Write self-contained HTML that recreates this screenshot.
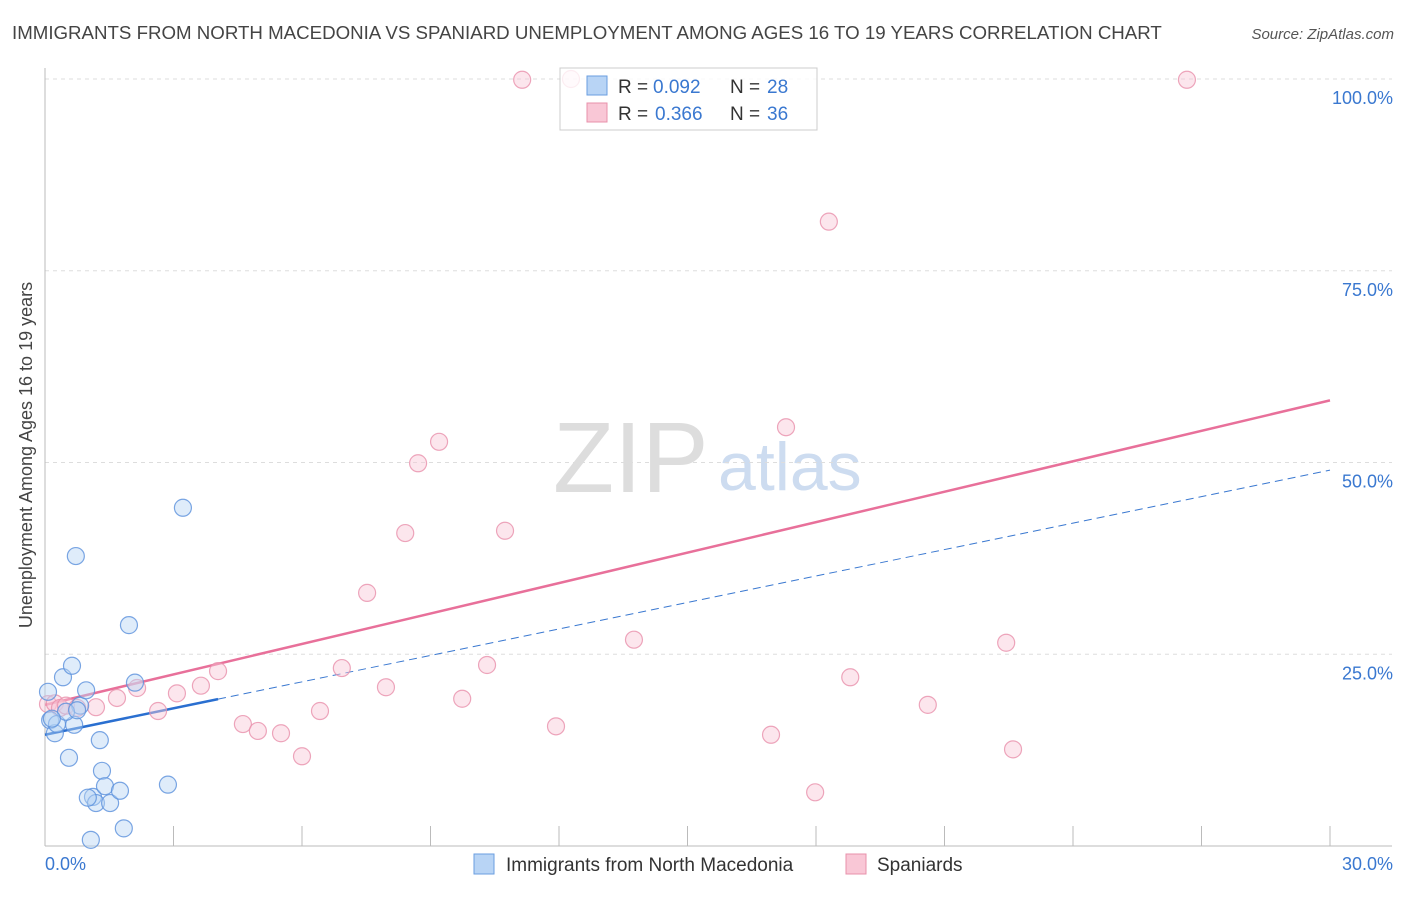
<!DOCTYPE html>
<html><head><meta charset="utf-8">
<style>
body{margin:0;background:#fff;font-family:"Liberation Sans",sans-serif;}
svg text{font-family:"Liberation Sans",sans-serif;}
</style></head>
<body>
<svg id="chart" width="1406" height="892" xmlns="http://www.w3.org/2000/svg">
<text x="12" y="39" font-size="18.7" fill="#444">IMMIGRANTS FROM NORTH MACEDONIA VS SPANIARD UNEMPLOYMENT AMONG AGES 16 TO 19 YEARS CORRELATION CHART</text>
<text x="1394" y="39" font-size="15" fill="#555" font-style="italic" text-anchor="end">Source: ZipAtlas.com</text>
<text x="32" y="455" font-size="18" fill="#444" text-anchor="middle" transform="rotate(-90 32 455)">Unemployment Among Ages 16 to 19 years</text>
<text x="553" y="492" font-size="100" fill="#ddd" font-family="Liberation Serif">ZIP</text>
<text x="718" y="490" font-size="68" fill="#cddcf0">atlas</text>
<g id="grid"></g><g id="axes"></g><g id="lines"></g><g id="pts"></g>
<g>
<rect x="560" y="68" width="257" height="62" fill="#fff" fill-opacity="0.8" stroke="#ccc"/>
<rect x="587" y="76" width="20" height="19" fill="#b8d4f5" stroke="#6a9ee0"/>
<text x="618" y="93" font-size="19" fill="#333">R =</text>
<text x="653" y="93" font-size="19" fill="#3a78d0">0.092</text>
<text x="730" y="93" font-size="19" fill="#333">N =</text>
<text x="767" y="93" font-size="19" fill="#3a78d0">28</text>
<rect x="587" y="103" width="20" height="19" fill="#f9c7d6" stroke="#e890ab"/>
<text x="618" y="120" font-size="19" fill="#333">R =</text>
<text x="655" y="120" font-size="19" fill="#3a78d0">0.366</text>
<text x="730" y="120" font-size="19" fill="#333">N =</text>
<text x="767" y="120" font-size="19" fill="#3a78d0">36</text>
</g>
<g>
<rect x="474" y="854" width="20" height="20" fill="#b8d4f5" stroke="#6a9ee0"/>
<text x="506" y="871" font-size="19" fill="#333">Immigrants from North Macedonia</text>
<rect x="846" y="854" width="20" height="20" fill="#f9c7d6" stroke="#e890ab"/>
<text x="877" y="871" font-size="19" fill="#333">Spaniards</text>
</g>
</svg>
<script>
const yTicks=[25,50,75,100];
const xTickLabels=["0.0%","30.0%"];
const blueX=[0.07,0.12,0.23,0.28,0.42,0.56,0.63,0.72,0.68,0.82,0.96,1.07,1.12,1.19,1.28,1.33,1.40,1.52,1.75,1.84,1.96,2.10,2.87,3.22,0.49,1.00,0.16,0.75];
const blueY=[20.1,16.4,14.7,15.9,22.0,11.5,23.5,37.8,15.8,18.3,20.3,0.8,6.4,5.6,13.8,9.8,7.8,5.6,7.2,2.3,28.8,21.3,8.0,44.1,17.5,6.3,16.6,17.7];
const pinkX=[0.07,0.23,0.35,0.49,0.75,1.19,1.68,2.15,2.64,3.08,3.64,4.04,4.62,4.97,5.51,6.00,6.42,6.93,7.52,7.96,8.41,8.71,9.20,9.74,10.32,10.74,11.14,11.93,12.28,13.75,16.95,17.30,17.98,18.30,18.80,20.61,22.44,22.60,26.66];
const pinkY=[18.5,18.6,18.0,18.3,18.0,18.1,19.3,20.6,17.6,19.9,20.9,22.8,15.9,15.0,14.7,11.7,17.6,23.2,33.0,20.7,40.8,49.9,52.7,19.2,23.6,41.1,99.9,15.6,100,26.9,14.5,54.6,7.0,81.4,22.0,18.4,26.5,12.6,99.9];
const pinkTrend=[18.4,58.1];
const blueTrend=[14.5,49.0];
const blueSolidEnd=4.04;
const NS="http://www.w3.org/2000/svg";
const sx=v=>45+v/30*1285, sy=v=>846-v/100*767;
function mk(t,a,p){const e=document.createElementNS(NS,t);for(const k in a)e.setAttribute(k,a[k]);document.getElementById(p).appendChild(e);return e;}
yTicks.forEach(t=>{
 const l=mk('line',{x1:45,x2:1392,y1:sy(t),y2:sy(t),stroke:'#ddd','stroke-dasharray':'4,4'},'grid');
 
 
 const tx=mk('text',{x:1393,y:sy(t)+25,'font-size':18,fill:'#3a78d0','text-anchor':'end'},'grid');
 tx.textContent=t.toFixed(1)+'%';
 
 
});
const ax=mk('line',{x1:45,x2:1392,y1:846,y2:846,stroke:'#bbb'},'axes');


const ay=mk('line',{x1:45,x2:45,y1:68,y2:846,stroke:'#bbb'},'axes');


for(let i=1;i<=10;i++){const t=mk('line',{x1:sx(i*3),x2:sx(i*3),y1:826,y2:846,stroke:'#bbb'},'axes');
 
 }
[[0,'start',45],[1,'end',1393]].forEach(([i,a,x])=>{const t=mk('text',{x:x,y:870,'font-size':18,fill:'#3a78d0','text-anchor':a},'axes');t.textContent=xTickLabels[i];
 
 });
function pts(X,Y,fill,stroke,name){X.forEach((x,i)=>{const c=mk('circle',{cx:sx(x),cy:sy(Y[i]),r:8.5,fill:fill,'fill-opacity':0.45,stroke:stroke,'stroke-width':1.2,'stroke-opacity':0.8},'pts');
 
 });}
pts(pinkX,pinkY,'#f9c7d6','#e890ab','spaniards-point');
pts(blueX,blueY,'#b8d4f5','#5a90dc','macedonia-point');
const pl=mk('line',{x1:sx(0),y1:sy(pinkTrend[0]),x2:sx(30),y2:sy(pinkTrend[1]),stroke:'#e8709a','stroke-width':2.5},'lines');


const bAt=x=>blueTrend[0]+(blueTrend[1]-blueTrend[0])*x/30;
const bd=mk('line',{x1:sx(blueSolidEnd),y1:sy(bAt(blueSolidEnd)),x2:sx(30),y2:sy(blueTrend[1]),stroke:'#3a78d0','stroke-width':1,'stroke-dasharray':'8,5'},'lines');


const bs=mk('line',{x1:sx(0),y1:sy(blueTrend[0]),x2:sx(blueSolidEnd),y2:sy(bAt(blueSolidEnd)),stroke:'#2a6fd0','stroke-width':2.5},'lines');


</script>
</body></html>
